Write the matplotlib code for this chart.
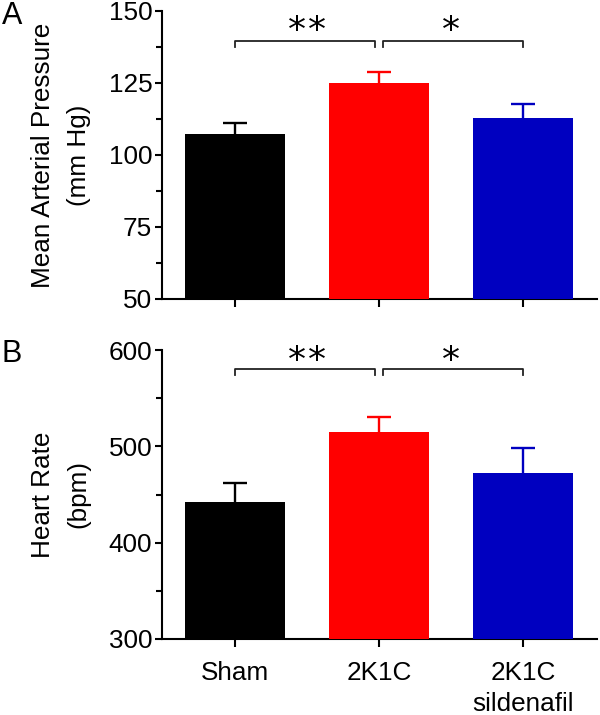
import matplotlib
matplotlib.use("Agg")
import matplotlib.pyplot as plt
from matplotlib.ticker import MultipleLocator

plt.rcParams['font.family'] = ['Liberation Sans', 'DejaVu Sans']

groups = ["Sham", "2K1C", "2K1C\nsildenafil"]
colors = ["#000000", "#FF0000", "#0000C0"]

map_mean = [107.2, 124.9, 112.7]
map_err = [3.8, 3.9, 4.9]

hr_mean = [441.8, 514.9, 472.0]
hr_err = [20.4, 15.2, 26.2]

map_sig = [(0, 1, "**"), (1, 2, "*")]
hr_sig = [(0, 1, "**"), (1, 2, "*")]

fig = plt.figure(figsize=(6.0, 7.15), dpi=100)

W, H = 600, 715
def axrect(l, t, r, b):
    return [l / W, 1 - b / H, (r - l) / W, (b - t) / H]

axA = fig.add_axes(axrect(162, 11, 597, 299))
axB = fig.add_axes(axrect(162, 350, 597, 639))

FS = 18.8
CAP = 0.083
STAR_GAP = 0.135

def draw(ax, means, errs, ylim, major, minor, ylabel, sig, br_y, br_drop, star_y, show_x):
    x = list(range(len(means)))
    ax.bar(x, [m - ylim[0] for m in means], bottom=ylim[0], width=0.694,
           color=colors, zorder=3)
    for xi, m, e, c in zip(x, means, errs, colors):
        ax.plot([xi, xi], [m, m + e], color=c, lw=1.7, zorder=2,
                solid_capstyle='butt')
        ax.plot([xi - CAP, xi + CAP], [m + e, m + e], color=c, lw=1.7,
                zorder=2, solid_capstyle='butt')
    ax.set_xlim(-0.507, 2.513)
    ax.set_ylim(*ylim)
    ax.yaxis.set_major_locator(MultipleLocator(major))
    ax.yaxis.set_minor_locator(MultipleLocator(minor))
    for s in ("top", "right"):
        ax.spines[s].set_visible(False)
    for s in ("left", "bottom"):
        ax.spines[s].set_linewidth(1.5)
    ax.tick_params(axis='y', which='major', length=5, width=1.5, labelsize=FS, pad=2)
    ax.tick_params(axis='y', which='minor', length=4, width=1.5)
    ax.tick_params(axis='x', which='major', length=6, width=1.5, labelsize=FS, pad=10)
    ax.set_xticks(x)
    if show_x:
        ax.set_xticklabels(groups, linespacing=1.38)
    else:
        ax.set_xticklabels([])
    ax.set_ylabel(ylabel, fontsize=FS, linespacing=1.6)
    ax.yaxis.label.set_verticalalignment('center')
    ax.yaxis.set_label_coords(-0.232, 0.5)
    # significance brackets
    for (a, b, txt) in sig:
        xa = a + (0.0 if a == 0 else 0.03)
        xb = b - (0.03 if b == 1 else 0.0)
        ax.plot([xa, xa, xb, xb], [br_y - br_drop, br_y, br_y, br_y - br_drop],
                color='#222222', lw=1.3, clip_on=False, zorder=4)
        n = len(txt)
        xc = (a + b) / 2
        for k, ch in enumerate(txt):
            ax.text(xc + (k - (n - 1) / 2) * STAR_GAP, star_y, ch,
                    ha='center', va='baseline', fontsize=26,
                    family='DejaVu Sans', clip_on=False)

draw(axA, map_mean, map_err, (50, 150), 25, 12.5,
     "Mean Arterial Pressure\n(mm Hg)", map_sig, 139.6, 2.1, 139.6, False)
draw(axB, hr_mean, hr_err, (300, 600), 100, 50,
     "Heart Rate\n(bpm)", hr_sig, 580, 6, 578, True)

fig.text(2 / W, 1 - 16 / H, "A", fontsize=22, ha='left', va='center')
fig.text(2 / W, 1 - 354 / H, "B", fontsize=22, ha='left', va='center')

fig.savefig("out.png", dpi=100)
